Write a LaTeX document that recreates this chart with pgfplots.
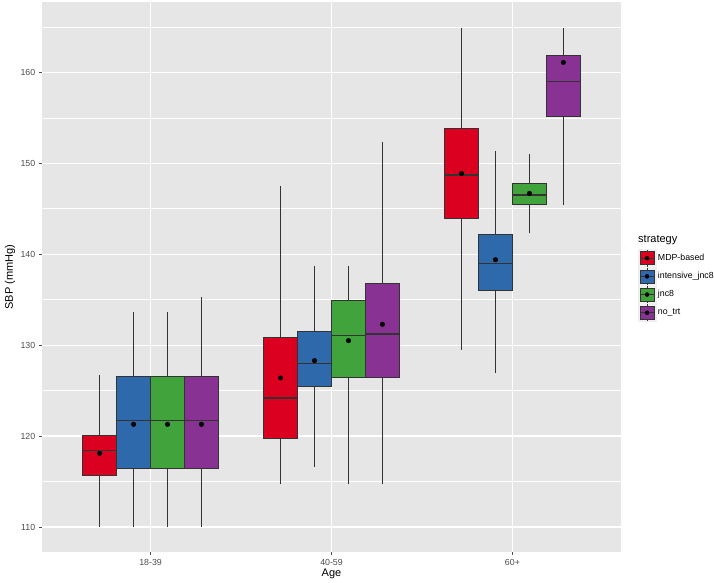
\documentclass[border=0pt]{standalone}
\usepackage{fontspec}
\setmainfont{Liberation Sans}
\usepackage{pgfplots}
\pgfplotsset{compat=1.18}
\definecolor{ggbg}{HTML}{E6E6E6}
\definecolor{ggtext}{HTML}{4D4D4D}
\definecolor{ggline}{HTML}{333333}
\definecolor{cMDP}{HTML}{DC0020}
\definecolor{cINT}{HTML}{2E69AB}
\definecolor{cJNC}{HTML}{41A33C}
\definecolor{cNO}{HTML}{883393}
% #1 left, #2 centre, #3 right, #4 lower whisker, #5 q1, #6 median, #7 q3, #8 upper whisker, #9 colour
\newcommand{\bx}[9]{%
  \addplot[forget plot,ggline,line width=0.9pt] coordinates {(#2,#4) (#2,#5)};
  \addplot[forget plot,ggline,line width=0.9pt] coordinates {(#2,#7) (#2,#8)};
  \addplot[forget plot,fill=#9,draw=ggline,line width=0.8pt] coordinates {(#1,#5) (#3,#5) (#3,#7) (#1,#7)} --cycle;
  \addplot[forget plot,ggline,line width=1.6pt] coordinates {(#1,#6) (#3,#6)};}
\newcommand{\keyimg}[1]{%
  \fill[black!6] (0pt,-8.6pt) rectangle (17.3pt,8.6pt);
  \draw[ggline,line width=0.8pt] (8.65pt,-8.6pt) -- (8.65pt,8.6pt);
  \draw[fill=#1,draw=ggline,line width=0.7pt] (1.7pt,-6.5pt) rectangle (15.6pt,6.5pt);
  \draw[ggline,line width=1.2pt] (1.7pt,0pt) -- (15.6pt,0pt);
  \fill[black] (8.65pt,0pt) circle (2pt);}
\begin{document}
\begin{tikzpicture}
\path[use as bounding box,fill=white] (0,0) rectangle (714pt,582pt);
\begin{axis}[
  at={(42pt,30pt)}, anchor=south west,
  width=579pt, height=550pt, scale only axis,
  xmin=0.4, xmax=3.6, ymin=107.25, ymax=167.75,
  axis background/.style={fill=ggbg},
  axis line style={draw=none},
  xtick={1,2,3}, xticklabels={18-39,40-59,60+},
  ytick={110,120,130,140,150,160},
  minor ytick={115,125,135,145,155,165},
  xmajorgrids, ymajorgrids, yminorgrids,
  major grid style={white,line width=1.3pt},
  minor grid style={white,line width=0.65pt},
  tick align=outside, xtick pos=lower, ytick pos=left,
  major tick length=2.75pt,
  major tick style={ggtext,line width=0.6pt},
  minor tick style={draw=none},
  /pgf/number format/assume math mode=true,
  ticklabel style={font=\fontsize{8.8}{10}\selectfont, text=ggtext},
  xticklabel style={yshift=-1pt},
  yticklabel style={xshift=-0.5pt},
  xlabel={Age}, ylabel={SBP (mmHg)},
  every axis x label/.style={at={(axis description cs:0.5,-0.04)},anchor=center,font=\fontsize{11}{13}\selectfont},
  every axis y label/.style={at={(axis description cs:-0.0553,0.5)},rotate=90,anchor=center,font=\fontsize{11}{13}\selectfont},
  legend style={at={(axis description cs:1.0294,0.551)},anchor=north west,draw=none,fill=none,
    font=\fontsize{8.8}{10}\selectfont,row sep=0.2pt,inner sep=0pt},
  legend cell align=left,
  clip=false,
]
% 18-39
\bx{0.625}{0.71875}{0.8125}{110}{115.7}{118.4}{120.1}{126.7}{cMDP}
\bx{0.8125}{0.90625}{1.0}{110}{116.5}{121.7}{126.6}{133.7}{cINT}
\bx{1.0}{1.09375}{1.1875}{110}{116.5}{121.7}{126.6}{133.7}{cJNC}
\bx{1.1875}{1.28125}{1.375}{110}{116.5}{121.7}{126.6}{135.3}{cNO}
% 40-59
\bx{1.625}{1.71875}{1.8125}{114.7}{119.8}{124.2}{130.9}{147.5}{cMDP}
\bx{1.8125}{1.90625}{2.0}{116.6}{125.5}{128.0}{131.5}{138.7}{cINT}
\bx{2.0}{2.09375}{2.1875}{114.7}{126.5}{131.05}{134.9}{138.7}{cJNC}
\bx{2.1875}{2.28125}{2.375}{114.7}{126.5}{131.2}{136.8}{152.4}{cNO}
% 60+
\bx{2.625}{2.71875}{2.8125}{129.5}{144.0}{148.7}{153.8}{164.9}{cMDP}
\bx{2.8125}{2.90625}{3.0}{126.9}{136.0}{139.0}{142.2}{151.4}{cINT}
\bx{3.0}{3.09375}{3.1875}{142.3}{145.5}{146.5}{147.75}{151.0}{cJNC}
\bx{3.1875}{3.28125}{3.375}{145.4}{155.2}{159.0}{161.9}{164.9}{cNO}
% means
\addplot[forget plot,only marks,mark=*,mark size=2.3pt,black] coordinates {
 (0.71875,118.1) (0.90625,121.3) (1.09375,121.3) (1.28125,121.3)
 (1.71875,126.4) (1.90625,128.3) (2.09375,130.5) (2.28125,132.3)
 (2.71875,148.9) (2.90625,139.4) (3.09375,146.7) (3.28125,161.1)};
% legend
\addlegendimage{legend image code/.code={\keyimg{cMDP}}}
\addlegendentry{MDP-based}
\addlegendimage{legend image code/.code={\keyimg{cINT}}}
\addlegendentry{intensive\_jnc8}
\addlegendimage{legend image code/.code={\keyimg{cJNC}}}
\addlegendentry{jnc8}
\addlegendimage{legend image code/.code={\keyimg{cNO}}}
\addlegendentry{no\_trt}
\node[anchor=west,font=\fontsize{11}{13}\selectfont,inner sep=0pt] at (axis description cs:1.0294,0.567) {strategy};
\end{axis}
\end{tikzpicture}
\end{document}
